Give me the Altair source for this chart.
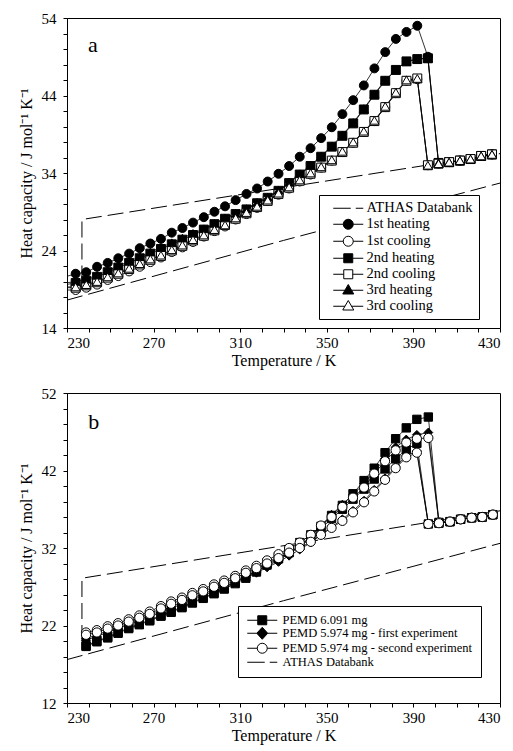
import altair as alt
import pandas as pd

FONT = "Liberation Serif"

# ---------------- Panel a data ----------------
T_a = [229.1, 234.0, 238.9, 243.9, 248.8, 253.7, 258.7, 263.6, 268.5, 273.4, 278.4,
       283.3, 288.2, 293.2, 298.1, 303.0, 307.9, 312.9, 317.8, 322.7, 327.7,
       332.6, 337.5, 342.5, 347.4, 352.3, 357.2, 362.2, 367.1, 372.0, 377.0,
       381.9, 386.8, 391.8, 396.7, 401.6, 406.5, 411.5, 416.4, 421.3, 426.3]
h1 = [20.6, 21.0, 21.2, 21.9, 22.4, 23.0, 23.6, 24.3, 24.9, 25.5, 26.3,
      26.9, 27.6, 28.3, 29.0, 29.7, 30.5, 31.3, 32.0, 32.9, 33.9,
      34.9, 36.1, 37.2, 38.5, 39.9, 41.6, 43.4, 45.3, 47.5, 49.6,
      51.3, 52.2, 53.0, 49.0, 35.3, 35.4, 35.6, 35.8, 36.2, 36.4]
c1 = [18.9, 18.9, 19.2, 19.6, 20.2, 20.7, 21.3, 21.9, 22.5, 23.1, 23.8,
      24.4, 25.1, 25.8, 26.5, 27.1, 28.0, 28.7, 29.5, 30.4, 31.2,
      32.0, 32.9, 33.8, 34.7, 35.6, 36.7, 37.9, 39.3, 40.7, 42.5,
      44.3, 45.9, 46.1, 35.0, 35.2, 35.4, 35.6, 35.8, 36.2, 36.4]
h2 = [19.6, 19.8, 20.1, 20.6, 21.2, 21.8, 22.4, 23.0, 23.6, 24.2, 24.8,
      25.4, 26.0, 26.7, 27.4, 28.1, 28.7, 29.3, 30.1, 30.8, 31.7,
      32.7, 33.8, 34.9, 36.1, 37.4, 38.8, 40.4, 42.2, 44.1, 45.9,
      47.3, 48.4, 48.7, 48.8, 35.3, 35.4, 35.6, 35.8, 36.2, 36.4]
c2 = [19.2, 19.2, 19.5, 19.9, 20.5, 21.0, 21.6, 22.2, 22.8, 23.3, 24.0,
      24.6, 25.3, 25.9, 26.6, 27.3, 28.1, 28.8, 29.6, 30.4, 31.3,
      32.1, 33.0, 33.9, 34.7, 35.6, 36.7, 37.9, 39.3, 40.7, 42.5,
      44.3, 45.9, 46.2, 35.0, 35.2, 35.4, 35.6, 35.8, 36.2, 36.4]
h3 = [19.8, 20.0, 20.3, 20.8, 21.4, 22.0, 22.6, 23.2, 23.8, 24.4, 25.0,
      25.6, 26.2, 26.8, 27.5, 28.2, 28.8, 29.4, 30.2, 30.9, 31.8,
      32.8, 33.9, 35.0, 36.2, 37.5, 38.9, 40.5, 42.3, 44.2, 46.0,
      47.3, 48.4, 48.7, 48.8, 35.3, 35.4, 35.6, 35.8, 36.2, 36.4]
c3 = [19.3, 19.3, 19.6, 20.0, 20.6, 21.1, 21.7, 22.3, 22.9, 23.4, 24.1,
      24.7, 25.4, 26.0, 26.7, 27.3, 28.2, 28.9, 29.7, 30.5, 31.4,
      32.2, 33.1, 34.0, 34.8, 35.7, 36.8, 38.0, 39.4, 40.8, 42.6,
      44.4, 46.0, 46.2, 35.0, 35.2, 35.4, 35.6, 35.8, 36.2, 36.4]

series_a = ["ATHAS Databank", "1st heating", "1st cooling", "2nd heating",
            "2nd cooling", "3rd heating", "3rd cooling"]

ath_a_liq_T = [236.9, 236.9, 430.0]
ath_a_liq_C = [20.0, 28.0, 36.5]
ath_a_sol_T = [230.0, 330.0, 430.0]
ath_a_sol_C = [17.6, 25.3, 32.7]

# ---------------- Panel b data ----------------
T_b = [238.8, 243.8, 248.8, 253.6, 258.5, 263.4, 268.2, 273.4, 278.1, 283.1,
       287.9, 292.9, 297.9, 302.6, 307.7, 312.6, 317.5, 322.4, 327.7, 332.6,
       337.5, 342.6, 347.3, 352.2, 357.2, 362.1, 367.2, 371.9, 376.9, 381.8,
       386.7, 391.6, 396.9, 401.8, 406.9, 411.8, 416.9, 421.8, 426.7]
sq_heat = [19.4, 20.0, 20.5, 21.1, 21.7, 22.2, 22.7, 23.3, 23.8, 24.4,
           25.0, 25.6, 26.2, 26.8, 27.6, 28.3, 29.1, 30.1, 30.9, 31.8,
           32.7, 33.7, 34.8, 36.2, 37.5, 39.0, 40.7, 42.3, 44.3, 46.1,
           47.5, 48.6, 48.9, 35.3, 35.4, 35.7, 35.9, 36.0, 36.3]
sq_cool = [19.3, 19.9, 20.4, 21.0, 21.6, 22.1, 22.6, 23.2, 23.7, 24.3,
           24.9, 25.5, 26.1, 26.7, 27.4, 28.1, 28.9, 29.8, 30.6, 31.4,
           32.3, 33.3, 34.5, 35.8, 37.0, 38.3, 39.6, 40.9, 42.2, 43.5,
           44.7, 45.5, 35.1, 35.2, 35.4, 35.7, 35.9, 36.0, 36.3]
di_heat = [20.3, 20.8, 21.3, 21.8, 22.3, 22.8, 23.3, 23.9, 24.4, 25.0,
           25.5, 26.1, 26.6, 27.2, 27.8, 28.4, 29.0, 29.7, 30.4, 31.3,
           32.3, 33.5, 34.9, 36.3, 37.6, 38.9, 40.3, 41.9, 43.5, 45.0,
           46.0, 46.6, 46.9, 35.3, 35.4, 35.7, 35.9, 36.0, 36.3]
di_cool = [20.1, 20.6, 21.1, 21.6, 22.1, 22.6, 23.1, 23.7, 24.2, 24.8,
           25.3, 25.9, 26.4, 27.0, 27.6, 28.2, 28.8, 29.5, 30.2, 31.0,
           31.8, 32.7, 33.7, 34.7, 35.7, 36.8, 38.1, 39.5, 41.0, 42.5,
           43.9, 44.5, 35.1, 35.2, 35.4, 35.7, 35.9, 36.0, 36.3]
ci_heat = [21.1, 21.4, 21.9, 22.3, 22.8, 23.3, 23.8, 24.5, 25.1, 25.6,
           26.2, 26.7, 27.3, 27.8, 28.4, 29.1, 29.7, 30.4, 31.2, 32.0,
           32.7, 33.7, 34.9, 36.0, 37.3, 38.5, 39.8, 41.6, 43.2, 44.6,
           45.6, 46.1, 46.2, 35.3, 35.4, 35.7, 35.9, 36.0, 36.3]
ci_cool = [20.8, 21.1, 21.6, 22.0, 22.5, 23.0, 23.5, 24.2, 24.8, 25.3,
           25.9, 26.4, 27.0, 27.5, 28.1, 28.8, 29.4, 30.0, 30.7, 31.4,
           32.0, 32.8, 33.7, 34.6, 35.5, 36.6, 37.9, 39.3, 40.8, 42.3,
           43.7, 44.3, 35.1, 35.2, 35.4, 35.7, 35.9, 36.0, 36.3]

series_b = ["PEMD 6.091 mg", "PEMD 5.974 mg - first experiment",
            "PEMD 5.974 mg - second experiment", "ATHAS Databank"]

ath_b_liq_T = [236.9, 236.9, 430.0]
ath_b_liq_C = [20.0, 28.1, 36.8]
ath_b_sol_T = [230.0, 330.0, 430.0]
ath_b_sol_C = [17.6, 25.2, 32.6]


def curves_df(curves, T):
    rows = []
    for name, curve_id, vals in curves:
        for i, (t, v) in enumerate(zip(T, vals)):
            rows.append({"T": t, "Cp": v, "series": name, "curve": curve_id, "idx": i})
    return pd.DataFrame(rows)


def ath_df(liq_T, liq_C, sol_T, sol_C):
    rows = []
    for i, (t, v) in enumerate(zip(liq_T, liq_C)):
        rows.append({"T": t, "Cp": v, "curve": "liquid", "idx": i})
    for i, (t, v) in enumerate(zip(sol_T, sol_C)):
        rows.append({"T": t, "Cp": v, "curve": "solid", "idx": i})
    return pd.DataFrame(rows)


# legend symbols: line stubs with a marker in the middle
P_DASH = "M-3,0H0.5M1.5,0H3"
P_CIRC = "M-3,0H-1M1,0H3M-1,0A1,1,0,1,0,1,0A1,1,0,1,0,-1,0Z"
P_SQ = "M-3,0H-0.9M0.9,0H3M-0.9,-0.9H0.9V0.9H-0.9Z"
P_TRI = "M-3,0H-0.66M0.66,0H3M0,-1.15L1.1,0.75H-1.1Z"
P_DIA = "M-3,0H-1.1M1.1,0H3M0,-1.2L1.1,0L0,1.2L-1.1,0Z"


def panel(df, ath, series, shapes, legend_paths, fills, sizes, ydom, letter_pos,
          letter, legend_xy, legend_font, legend_rowpad, legend_pad, sym_offset,
          label_offset):
    x_enc = alt.X("T:Q", scale=alt.Scale(domain=[230, 430], nice=False, zero=False),
                  axis=alt.Axis(values=list(range(230, 431, 10)),
                                labelExpr="datum.value % 40 == 30 ? datum.label : ''",
                                title="Temperature / K", tickSize=4, labelPadding=3,
                                titlePadding=2, grid=False, labelOverlap=False))
    y_enc = alt.Y("Cp:Q", scale=alt.Scale(domain=ydom, nice=False, zero=False),
                  axis=alt.Axis(values=list(range(ydom[0], ydom[1] + 1, 2)),
                                labelExpr=f"(datum.value - {ydom[0]}) % 10 == 0 ? datum.label : ''",
                                title="Heat capacity / J mol\u207b\u00b9 K\u207b\u00b9",
                                tickSize=4, labelPadding=7, titlePadding=7,
                                grid=False, labelOverlap=False))

    ath_layer = alt.Chart(ath).mark_line(color="black", strokeWidth=1,
                                         strokeDash=[16, 6], clip=True).encode(
        x=x_enc, y=y_enc, detail="curve:N", order="idx:Q")

    line_layer = alt.Chart(df).mark_line(color="black", strokeWidth=0.8, clip=True).encode(
        x=x_enc, y=y_enc, detail="curve:N", order="idx:Q")

    pts_series = [s for s in series if s != "ATHAS Databank"]
    pts_layer = alt.Chart(df).transform_filter("datum.T >= 230").mark_point(
        filled=True, stroke="black", strokeWidth=1, opacity=1).encode(
        x=x_enc, y=y_enc,
        shape=alt.Shape("series:N", scale=alt.Scale(domain=pts_series,
                                                    range=[shapes[s] for s in pts_series]),
                        legend=None),
        fill=alt.Fill("series:N", scale=alt.Scale(domain=pts_series,
                                                  range=[fills[s] for s in pts_series]),
                      legend=None),
        size=alt.Size("series:N", scale=alt.Scale(domain=pts_series,
                                                  range=[sizes[s] for s in pts_series]),
                      legend=None),
    )

    leg = alt.Legend(title=None, orient="none", legendX=legend_xy[0], legendY=legend_xy[1],
                     strokeColor="black", fillColor="white", padding=legend_pad,
                     labelFont=FONT, labelFontSize=legend_font, labelColor="black",
                     symbolSize=100, symbolStrokeWidth=1,
                     symbolOffset=sym_offset, labelOffset=label_offset,
                     rowPadding=legend_rowpad, labelLimit=400)
    legend_layer = alt.Chart(df).transform_filter("false").mark_point(
        filled=True, stroke="black", strokeWidth=1, opacity=1).encode(
        x=x_enc, y=y_enc,
        shape=alt.Shape("series:N", scale=alt.Scale(domain=series,
                                                    range=[legend_paths[s] for s in series]),
                        legend=leg),
        fill=alt.Fill("series:N", scale=alt.Scale(domain=series,
                                                  range=[fills[s] for s in series]),
                      legend=leg),
    )

    lab = pd.DataFrame({"T": [letter_pos[0]], "Cp": [letter_pos[1]], "txt": [letter]})
    text_layer = alt.Chart(lab).mark_text(font=FONT, fontSize=22, color="black",
                                          align="center", baseline="middle").encode(
        x=x_enc, y=y_enc, text="txt:N")

    return alt.layer(ath_layer, line_layer, pts_layer, legend_layer, text_layer).resolve_scale(
        shape="independent", fill="independent", size="independent"
    ).properties(width=433, height=310)


# ---- panel a ----
df_a = curves_df([
    ("1st heating", "h1", h1), ("1st cooling", "c1", c1),
    ("2nd heating", "h2", h2), ("2nd cooling", "c2", c2),
    ("3rd heating", "h3", h3), ("3rd cooling", "c3", c3)], T_a)
ath_a = ath_df(ath_a_liq_T, ath_a_liq_C, ath_a_sol_T, ath_a_sol_C)
shapes_a = {"1st heating": "circle", "1st cooling": "circle", "2nd heating": "square",
            "2nd cooling": "square", "3rd heating": "triangle-up", "3rd cooling": "triangle-up"}
paths_a = {"ATHAS Databank": P_DASH, "1st heating": P_CIRC, "1st cooling": P_CIRC,
           "2nd heating": P_SQ, "2nd cooling": P_SQ, "3rd heating": P_TRI, "3rd cooling": P_TRI}
fills_a = {"ATHAS Databank": "white", "1st heating": "black", "1st cooling": "white",
           "2nd heating": "black", "2nd cooling": "white", "3rd heating": "black",
           "3rd cooling": "white"}
sizes_a = {"1st heating": 80, "1st cooling": 80, "2nd heating": 70, "2nd cooling": 70,
           "3rd heating": 75, "3rd cooling": 75}
panel_a = panel(df_a, ath_a, series_a, shapes_a, paths_a, fills_a, sizes_a, [14, 54],
                (242.0, 50.5), "a", (252, 177), 14.5, 1, 6, 16, 11)

# ---- panel b ----
df_b = curves_df([
    ("PEMD 6.091 mg", "sh", sq_heat), ("PEMD 6.091 mg", "sc", sq_cool),
    ("PEMD 5.974 mg - first experiment", "dh", di_heat),
    ("PEMD 5.974 mg - first experiment", "dc", di_cool),
    ("PEMD 5.974 mg - second experiment", "ch", ci_heat),
    ("PEMD 5.974 mg - second experiment", "cc", ci_cool)], T_b)
ath_b = ath_df(ath_b_liq_T, ath_b_liq_C, ath_b_sol_T, ath_b_sol_C)
shapes_b = {"PEMD 6.091 mg": "square", "PEMD 5.974 mg - first experiment": "diamond",
            "PEMD 5.974 mg - second experiment": "circle"}
paths_b = {"PEMD 6.091 mg": P_SQ, "PEMD 5.974 mg - first experiment": P_DIA,
           "PEMD 5.974 mg - second experiment": P_CIRC, "ATHAS Databank": P_DASH}
fills_b = {"PEMD 6.091 mg": "black", "PEMD 5.974 mg - first experiment": "black",
           "PEMD 5.974 mg - second experiment": "white", "ATHAS Databank": "white"}
sizes_b = {"PEMD 6.091 mg": 70, "PEMD 5.974 mg - first experiment": 85,
           "PEMD 5.974 mg - second experiment": 80}
panel_b = panel(df_b, ath_b, series_b, shapes_b, paths_b, fills_b, sizes_b, [12, 52],
                (242.4, 48.3), "b", (171, 213), 12.5, -2, 8, 10, 14)

chart = alt.vconcat(panel_a, panel_b, spacing=16).properties(
    padding={"left": 9, "top": 2, "right": 0, "bottom": 2}, background="white"
).configure_axis(
    labelFont=FONT, titleFont=FONT, labelFontSize=15, titleFontSize=16,
    titleFontWeight="normal", domainColor="black", tickColor="black",
    labelColor="black", titleColor="black"
).configure_view(stroke="black", strokeWidth=1)

chart.save("out.html", embed_options={"renderer": "svg", "actions": False})
